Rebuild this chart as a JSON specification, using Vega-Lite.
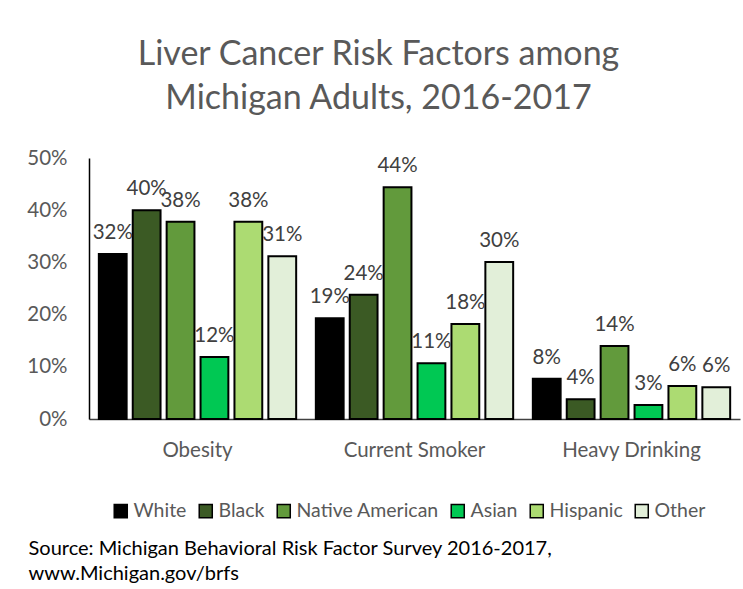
{
  "$schema": "https://vega.github.io/schema/vega-lite/v6.json",
  "width": 651,
  "height": 261,
  "autosize": {"type": "none"},
  "padding": {"left": 89, "top": 158, "right": 3, "bottom": 170},
  "background": "white",
  "config": {
    "view": {"stroke": null},
    "font": "Lato"
  },
  "title": {
    "text": ["Liver Cancer Risk Factors among", "Michigan Adults, 2016-2017"],
    "anchor": "middle",
    "dx": -36,
    "offset": 32,
    "fontSize": 34,
    "fontWeight": "normal",
    "color": "#595959",
    "lineHeight": 44,
    "font": "Lato"
  },
  "data": {
    "values": [
      {"factor": "Obesity", "group": "White", "value": 0.316},
      {"factor": "Obesity", "group": "Black", "value": 0.400},
      {"factor": "Obesity", "group": "Native American", "value": 0.378},
      {"factor": "Obesity", "group": "Asian", "value": 0.119},
      {"factor": "Obesity", "group": "Hispanic", "value": 0.378},
      {"factor": "Obesity", "group": "Other", "value": 0.312},
      {"factor": "Current Smoker", "group": "White", "value": 0.193},
      {"factor": "Current Smoker", "group": "Black", "value": 0.238},
      {"factor": "Current Smoker", "group": "Native American", "value": 0.444},
      {"factor": "Current Smoker", "group": "Asian", "value": 0.107},
      {"factor": "Current Smoker", "group": "Hispanic", "value": 0.182},
      {"factor": "Current Smoker", "group": "Other", "value": 0.301},
      {"factor": "Heavy Drinking", "group": "White", "value": 0.077},
      {"factor": "Heavy Drinking", "group": "Black", "value": 0.038},
      {"factor": "Heavy Drinking", "group": "Native American", "value": 0.140},
      {"factor": "Heavy Drinking", "group": "Asian", "value": 0.027},
      {"factor": "Heavy Drinking", "group": "Hispanic", "value": 0.063},
      {"factor": "Heavy Drinking", "group": "Other", "value": 0.061}
    ]
  },
  "encoding": {
    "x": {
      "field": "factor",
      "type": "nominal",
      "sort": ["Obesity", "Current Smoker", "Heavy Drinking"],
      "scale": {"paddingInner": 0, "paddingOuter": 0},
      "axis": {
        "title": ["Source: Michigan Behavioral Risk Factor Survey 2016-2017,", "www.Michigan.gov/brfs"],
        "titleX": -61,
        "titleY": 135,
        "titleAlign": "left",
        "titleAnchor": "start",
        "titleBaseline": "alphabetic",
        "titleFontSize": 20,
        "titleFontWeight": "normal",
        "titleColor": "#000000",
        "titleLineHeight": 25,
        "labelAngle": 0,
        "labelFontSize": 20.5,
        "labelColor": "#595959",
        "labelPadding": 21,
        "ticks": false,
        "domainColor": "#404040",
        "domainWidth": 1.5
      }
    },
    "xOffset": {
      "field": "group",
      "type": "nominal",
      "sort": ["White", "Black", "Native American", "Asian", "Hispanic", "Other"],
      "scale": {"paddingInner": 0.18, "paddingOuter": 0.29}
    },
    "y": {
      "field": "value",
      "type": "quantitative",
      "scale": {"domain": [0, 0.5]},
      "axis": {
        "title": null,
        "format": ".0%",
        "values": [0, 0.1, 0.2, 0.3, 0.4, 0.5],
        "grid": false,
        "ticks": false,
        "labelFontSize": 20.5,
        "labelColor": "#595959",
        "labelPadding": 22,
        "domainColor": "#000000",
        "domainWidth": 1.5
      }
    }
  },
  "layer": [
    {
      "mark": {"type": "bar", "stroke": "#000000", "strokeWidth": 2},
      "encoding": {
        "color": {
          "field": "group",
          "type": "nominal",
          "sort": ["White", "Black", "Native American", "Asian", "Hispanic", "Other"],
          "scale": {
            "domain": ["White", "Black", "Native American", "Asian", "Hispanic", "Other"],
            "range": ["#000000", "#3b5a24", "#629a3c", "#00c853", "#acdb72", "#e2efd9"]
          },
          "legend": {
            "title": null,
            "orient": "none",
            "direction": "horizontal",
            "legendX": 22,
            "legendY": 343,
            "symbolType": "square",
            "symbolSize": 170,
            "symbolStrokeColor": "#000000",
            "symbolStrokeWidth": 1.5,
            "labelFontSize": 19.5,
            "labelColor": "#595959",
            "labelOffset": 3,
            "columnPadding": 9
          }
        }
      }
    },
    {
      "mark": {"type": "text", "fontSize": 20.5, "color": "#404040", "baseline": "alphabetic", "dy": -15},
      "encoding": {
        "text": {"field": "value", "type": "quantitative", "format": ".0%"}
      }
    }
  ]
}
